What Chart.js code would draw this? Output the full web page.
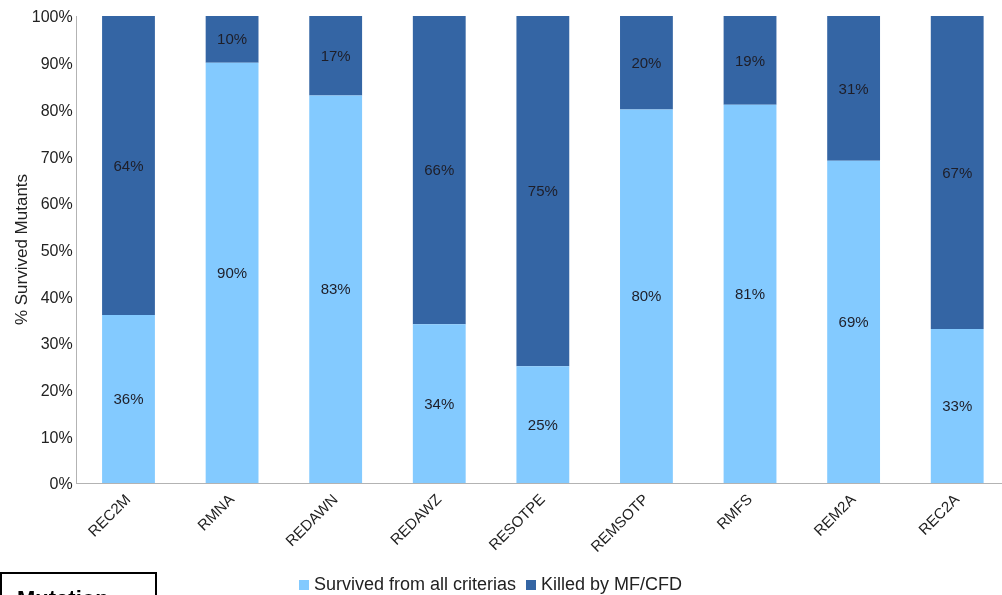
<!DOCTYPE html>
<html>
<head>
<meta charset="utf-8">
<script src="https://cdn.jsdelivr.net/npm/chart.js@4.4.1/dist/chart.umd.min.js"></script>
<style>
  html, body { margin: 0; padding: 0; background: #fff; overflow: hidden; width: 1002px; height: 595px; }
  #wrap { position: absolute; left: 0; top: 0; width: 1020px; height: 595px; }
  #legend { position: absolute; left: 299px; top: 574px; font-family: "Liberation Sans", Arial, sans-serif; font-size: 18px; color: #222; white-space: nowrap; }
  #legend .item { display: inline-block; margin-right: 10px; }
  #legend .sw { display: inline-block; width: 10px; height: 10px; margin-right: 5px; vertical-align: 0px; }
  #mut { position: absolute; left: 0; top: 572px; width: 153px; height: 40px; border: 2px solid #000; box-sizing: content-box; }
  #mut span { position: absolute; left: 15px; top: 12px; font-family: "Liberation Sans", Arial, sans-serif; font-weight: bold; font-size: 22px; color: #000; }
</style>
</head>
<body>
<div id="wrap"><canvas id="c" width="1020" height="595"></canvas></div>
<div id="legend"></div>
<div id="mut"><span>Mutation</span></div>
<script>
const categories = ["REC2M", "RMNA", "REDAWN", "REDAWZ", "RESOTPE", "REMSOTP", "RMFS", "REM2A", "REC2A"];
const survived = [36, 90, 83, 34, 25, 80, 81, 69, 33];
const killed = [64, 10, 17, 66, 75, 20, 19, 31, 67];
const seriesNames = ["Survived from all criterias", "Killed by MF/CFD"];
const seriesColors = ["#83CAFF", "#3465A4"];
const yTicks = [0, 10, 20, 30, 40, 50, 60, 70, 80, 90, 100];

const FONT = '"Liberation Sans", Arial, sans-serif';

const barLabels = {
  id: 'barLabels',
  afterDatasetsDraw(chart) {
    const ctx = chart.ctx;
    ctx.save();
    ctx.font = '15px ' + FONT;
    ctx.fillStyle = '#1e1e28';
    ctx.textAlign = 'center';
    ctx.textBaseline = 'middle';
    chart.data.datasets.forEach((ds, di) => {
      const meta = chart.getDatasetMeta(di);
      meta.data.forEach((el, i) => {
        const y = (el.y + el.base) / 2;
        ctx.fillText(ds.data[i] + '%', el.x, y + 1);
      });
    });
    ctx.restore();
  }
};

const chart = new Chart(document.getElementById('c'), {
  type: 'bar',
  data: {
    labels: categories,
    datasets: [
      { label: seriesNames[0], data: survived, backgroundColor: seriesColors[0], borderWidth: 0 },
      { label: seriesNames[1], data: killed, backgroundColor: seriesColors[1], borderWidth: 0 }
    ]
  },
  options: {
    responsive: false,
    animation: false,
    devicePixelRatio: 1,
    layout: { padding: { top: 16, right: 11, bottom: 0, left: 0 } },
    datasets: { bar: { categoryPercentage: 1.0, barPercentage: 0.51 } },
    plugins: { legend: { display: false }, tooltip: { enabled: false } },
    scales: {
      x: {
        stacked: true,
        grid: { display: false, drawTicks: false },
        border: { display: true, color: '#b3b3b3', width: 1 },
        ticks: { color: '#222', font: { family: FONT, size: 15 }, minRotation: 45, maxRotation: 45, padding: 8, autoSkip: false },
        afterFit(s) { s.height = 112; }
      },
      y: {
        stacked: true,
        min: 0, max: 100,
        grid: { display: false, drawTicks: false },
        border: { display: true, color: '#b3b3b3', width: 1 },
        afterBuildTicks(s) { s.ticks = yTicks.map(v => ({ value: v })); },
        ticks: { color: '#222', font: { family: FONT, size: 16 }, padding: 4, labelOffset: 2, callback: v => v + '%' },
        title: { display: true, text: '% Survived Mutants', color: '#222', font: { family: FONT, size: 17 }, padding: { top: 12, bottom: 0 } },
        afterFit(s) { s.width = 76.7; }
      }
    }
  },
  plugins: [barLabels]
});

const leg = document.getElementById('legend');
seriesNames.forEach((n, i) => {
  const it = document.createElement('span');
  it.className = 'item';
  const sw = document.createElement('span');
  sw.className = 'sw';
  sw.style.background = seriesColors[i];
  it.appendChild(sw);
  it.appendChild(document.createTextNode(n));
  leg.appendChild(it);
});
</script>
</body>
</html>
